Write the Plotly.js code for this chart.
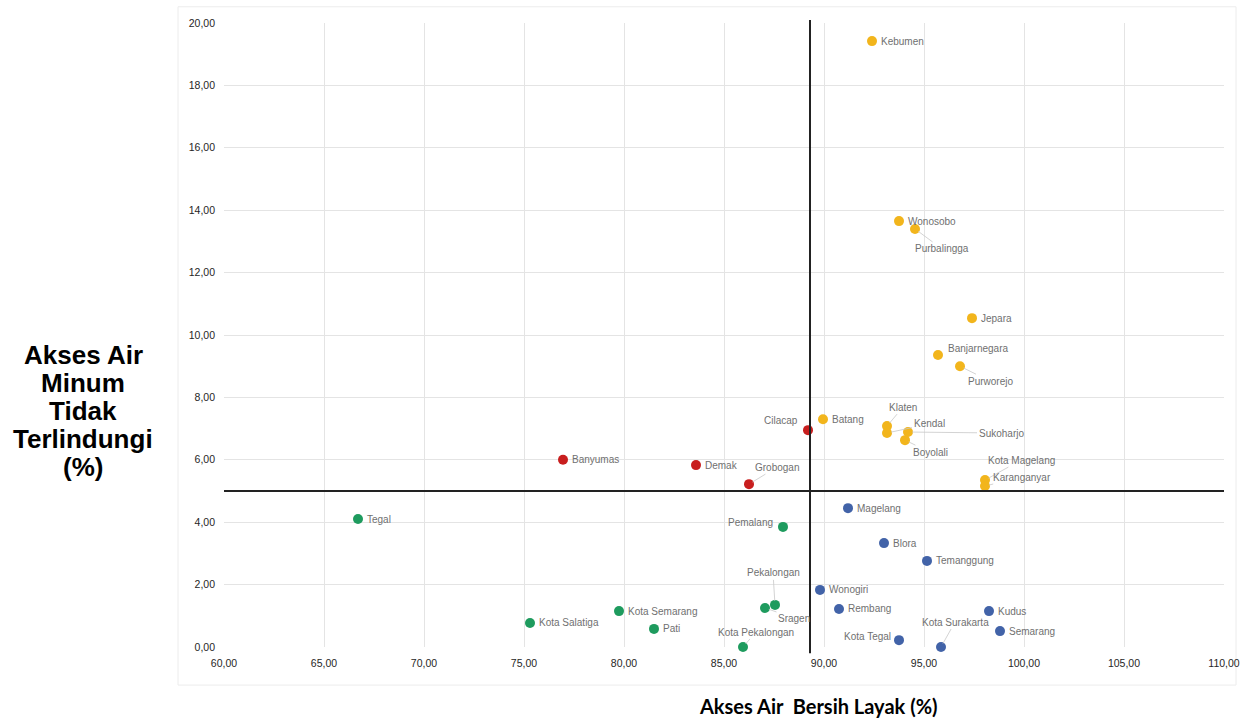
<!DOCTYPE html>
<html>
<head>
<meta charset="utf-8">
<script src="https://cdn.plot.ly/plotly-3.0.1.min.js"></script>
<style>html,body{margin:0;padding:0;background:#fff;}#chart{width:1241px;height:722px;}</style>
</head>
<body>
<div id="chart"></div>
<script>
// ---- data ----
const yellowNames = ["Kebumen","Wonosobo","Purbalingga","Jepara","Banjarnegara","Purworejo","Batang","Klaten","Kendal","Sukoharjo","Boyolali","Kota Magelang","Karanganyar"];
const yellowX = [92.4, 93.75, 94.55, 97.4, 95.7, 96.8, 89.95, 93.15, 93.15, 94.2, 94.05, 98.05, 98.05];
const yellowY = [19.42, 13.65, 13.4, 10.54, 9.36, 9.0, 7.3, 7.08, 6.86, 6.89, 6.63, 5.35, 5.16];

const redNames = ["Cilacap","Banyumas","Demak","Grobogan"];
const redX = [89.2, 76.95, 83.6, 86.25];
const redY = [6.95, 6.0, 5.83, 5.22];

const greenNames = ["Tegal","Brebes","Pemalang","Pekalongan","Sragen","Kota Semarang","Kota Salatiga","Pati","Kota Pekalongan"];
const greenX = [66.7, 59.95, 87.95, 87.55, 87.05, 79.75, 75.3, 81.5, 85.95];
const greenY = [4.1, 1.35, 3.85, 1.35, 1.25, 1.15, 0.77, 0.58, 0.0];

const blueNames = ["Magelang","Blora","Temanggung","Wonogiri","Rembang","Kudus","Semarang","Kota Tegal","Kota Surakarta"];
const blueX = [91.2, 93.0, 95.15, 89.8, 90.75, 98.25, 98.8, 93.75, 95.85];
const blueY = [4.45, 3.33, 2.76, 1.83, 1.22, 1.15, 0.51, 0.22, 0.0];

const thresholdX = 89.3;
const thresholdY = 5.0;

const xTitle = "Akses Air  Bersih Layak (%)";
const yTitleLines = ["Akses Air", "Minum", "Tidak", "Terlindungi", "(%)"];

// ---- styles ----
const groups = [
  {names: yellowNames, x: yellowX, y: yellowY, color: "#F2B51C"},
  {names: redNames, x: redX, y: redY, color: "#C81E1E"},
  {names: greenNames, x: greenX, y: greenY, color: "#1E9B5E"},
  {names: blueNames, x: blueX, y: blueY, color: "#4263A8"}
];

// label placement (pixel offsets)
const arrowLabels = {
  "Purbalingga": [27, 20], "Purworejo": [30, 15], "Klaten": [16, -19], "Kendal": [42, -9],
  "Sukoharjo": [93, 1], "Boyolali": [25, 12], "Kota Magelang": [36, -20], "Karanganyar": [37, -9],
  "Grobogan": [28, -17], "Pekalongan": [-2, -32], "Sragen": [29, 10], "Kota Pekalongan": [13, -15],
  "Kota Surakarta": [14, -25]
};
const leftLabels = {"Cilacap": [-8, 10], "Pemalang": [-8, 4], "Kota Tegal": [-6, 4]};
const shiftLabels = {"Banjarnegara": [8, 6]};

const labelFont = {family: "Liberation Sans Narrow, Liberation Sans, Arial", size: 10, color: "#707070"};

const traces = groups.map(g => ({
  type: "scatter", mode: "markers", x: g.x, y: g.y, text: g.names,
  marker: {color: g.color, size: 10}, cliponaxis: false, hoverinfo: "text+x+y", showlegend: false
}));

const annotations = [];
groups.forEach(g => {
  g.names.forEach((n, i) => {
    const base = {x: g.x[i], y: g.y[i], xref: "x", yref: "y", text: n, font: labelFont};
    if (arrowLabels[n]) {
      annotations.push(Object.assign(base, {showarrow: true, ax: arrowLabels[n][0], ay: arrowLabels[n][1],
        arrowhead: 0, arrowwidth: 0.8, arrowcolor: "#c8c8c8", standoff: 4}));
    } else if (leftLabels[n]) {
      annotations.push(Object.assign(base, {showarrow: false, xanchor: "right", yanchor: "middle",
        xshift: leftLabels[n][0], yshift: leftLabels[n][1]}));
    } else {
      const s = shiftLabels[n] || [7, 0];
      annotations.push(Object.assign(base, {showarrow: false, xanchor: "left", yanchor: "middle",
        xshift: s[0], yshift: s[1]}));
    }
  });
});

// axis titles as annotations
yTitleLines.forEach((t, i) => {
  annotations.push({xref: "paper", yref: "paper", x: -0.141, y: 0.468 - i * 0.0449, text: t, showarrow: false,
    xanchor: "center", yanchor: "middle",
    font: {family: "Liberation Sans, Arial", size: 26, color: "#000", weight: "bold"}});
});
annotations.push({xref: "paper", yref: "paper", x: 0.594, y: -0.095, text: xTitle, showarrow: false,
  xanchor: "center", yanchor: "middle",
  font: {family: "Lato, Open Sans, sans-serif", size: 20, color: "#000", weight: "bold"}});

const tickFont = {family: "Liberation Sans Narrow, Liberation Sans, Arial", size: 10.5, color: "#262626"};

const layout = {
  width: 1241, height: 722,
  margin: {l: 224, r: 17, t: 23, b: 75},
  paper_bgcolor: "#fff", plot_bgcolor: "#fff",
  separators: ",.",
  showlegend: false,
  xaxis: {range: [60, 110], dtick: 5, tick0: 60, tickformat: ".2f", showgrid: true, gridcolor: "#e4e4e4",
    zeroline: false, showline: false, ticks: "", tickfont: tickFont, ticklabelstandoff: 8},
  yaxis: {range: [0, 20], dtick: 2, tick0: 0, tickformat: ".2f", showgrid: true, gridcolor: "#e4e4e4",
    zeroline: false, showline: false, ticks: "", tickfont: tickFont, ticklabelstandoff: 8},
  shapes: [
    {type: "rect", xref: "paper", yref: "paper", x0: -0.046, x1: 1.012, y0: -0.061, y1: 1.026,
      line: {color: "#ececec", width: 1}, layer: "below"},
    {type: "line", xref: "x", yref: "paper", x0: thresholdX, x1: thresholdX, y0: -0.01, y1: 1.005,
      line: {color: "#222", width: 2}},
    {type: "line", xref: "x", yref: "y", x0: 60, x1: 110, y0: thresholdY, y1: thresholdY,
      line: {color: "#222", width: 2.2}}
  ],
  annotations: annotations
};

Plotly.newPlot("chart", traces, layout, {displayModeBar: false, staticPlot: true});
</script>
</body>
</html>
